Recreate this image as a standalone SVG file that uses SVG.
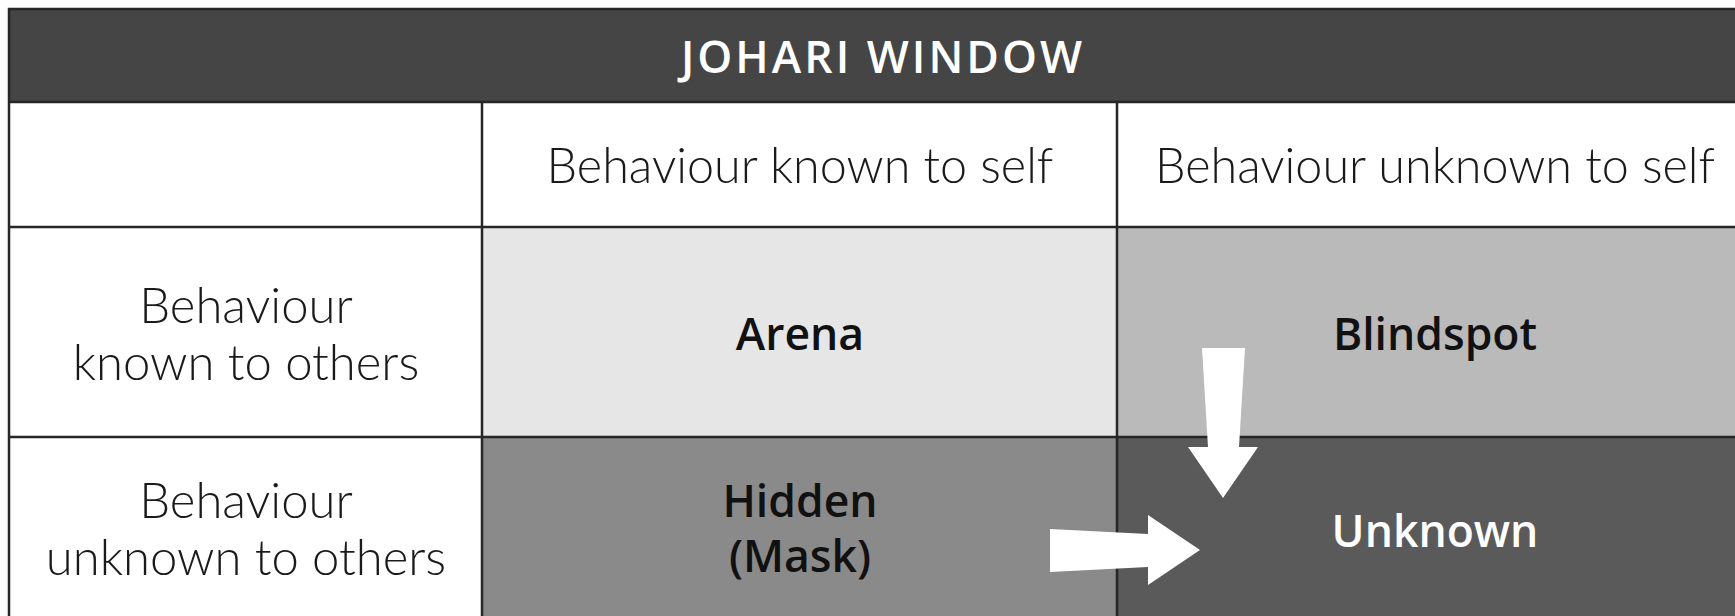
<svg xmlns="http://www.w3.org/2000/svg" width="1735" height="616" viewBox="0 0 1735 616">
<style>
.grid{stroke:#262626;stroke-width:2.5;fill:none}
.hdr{font-family:Lato,"Noto Sans","Liberation Sans",sans-serif;font-weight:300;font-size:48.5px;fill:#1a1a1a;text-anchor:middle}
.lbl{font-size:49px}
.cell{font-family:"Open Sans",Lato,"Liberation Sans",sans-serif;font-weight:600;font-size:44.5px;text-anchor:middle}
.arrow{fill:#ffffff}
</style>
<rect x="0" y="0" width="1735" height="616" fill="#ffffff"/>
<g id="title">
<rect x="9" y="9" width="1740" height="93" fill="#454545"/>
<text x="883" y="73" class="cell" fill="#ffffff" font-size="47" letter-spacing="3">JOHARI WINDOW</text>
</g>
<g id="header-self-known">
<rect x="482" y="102" width="635" height="125" fill="#ffffff"/>
<text x="800" y="183" class="hdr">Behaviour known to self</text>
</g>
<g id="header-self-unknown">
<rect x="1117" y="102" width="640" height="125" fill="#ffffff"/>
<text x="1435" y="183" class="hdr">Behaviour unknown to self</text>
</g>
<g id="row-known-others">
<text x="246" y="323" class="hdr lbl">Behaviour</text>
<text x="246" y="380" class="hdr lbl">known to others</text>
</g>
<g id="row-unknown-others">
<text x="246" y="518" class="hdr lbl">Behaviour</text>
<text x="246" y="575" class="hdr lbl">unknown to others</text>
</g>
<g id="arena">
<rect x="482" y="227" width="635" height="210" fill="#e6e6e6"/>
<text x="800" y="350" class="cell" fill="#111111">Arena</text>
</g>
<g id="blindspot">
<rect x="1117" y="227" width="640" height="210" fill="#bababa"/>
<text x="1435" y="350" class="cell" fill="#111111">Blindspot</text>
</g>
<g id="hidden">
<rect x="482" y="437" width="635" height="190" fill="#8a8a8a"/>
<text x="800" y="517" class="cell" fill="#111111">Hidden</text>
<text x="800" y="572" class="cell" fill="#111111">(Mask)</text>
</g>
<g id="unknown">
<rect x="1117" y="437" width="640" height="190" fill="#5a5a5a"/>
<text x="1435" y="547" class="cell" fill="#ffffff">Unknown</text>
</g>
<g id="grid" class="grid">
<rect x="9" y="9" width="1740" height="620"/>
<line x1="9" y1="102" x2="1735" y2="102"/>
<line x1="9" y1="227" x2="1735" y2="227"/>
<line x1="9" y1="437" x2="1735" y2="437"/>
<line x1="482" y1="102" x2="482" y2="616"/>
<line x1="1117" y1="102" x2="1117" y2="616"/>
</g>
<g id="connectors">
<polygon class="arrow" points="1202,348 1245,348 1239,447 1258,447 1223,498 1188,447 1208,447"/>
<polygon class="arrow" points="1050,529 1148,534 1148,515 1200,550 1148,585 1148,567 1050,572"/>
</g>
</svg>
